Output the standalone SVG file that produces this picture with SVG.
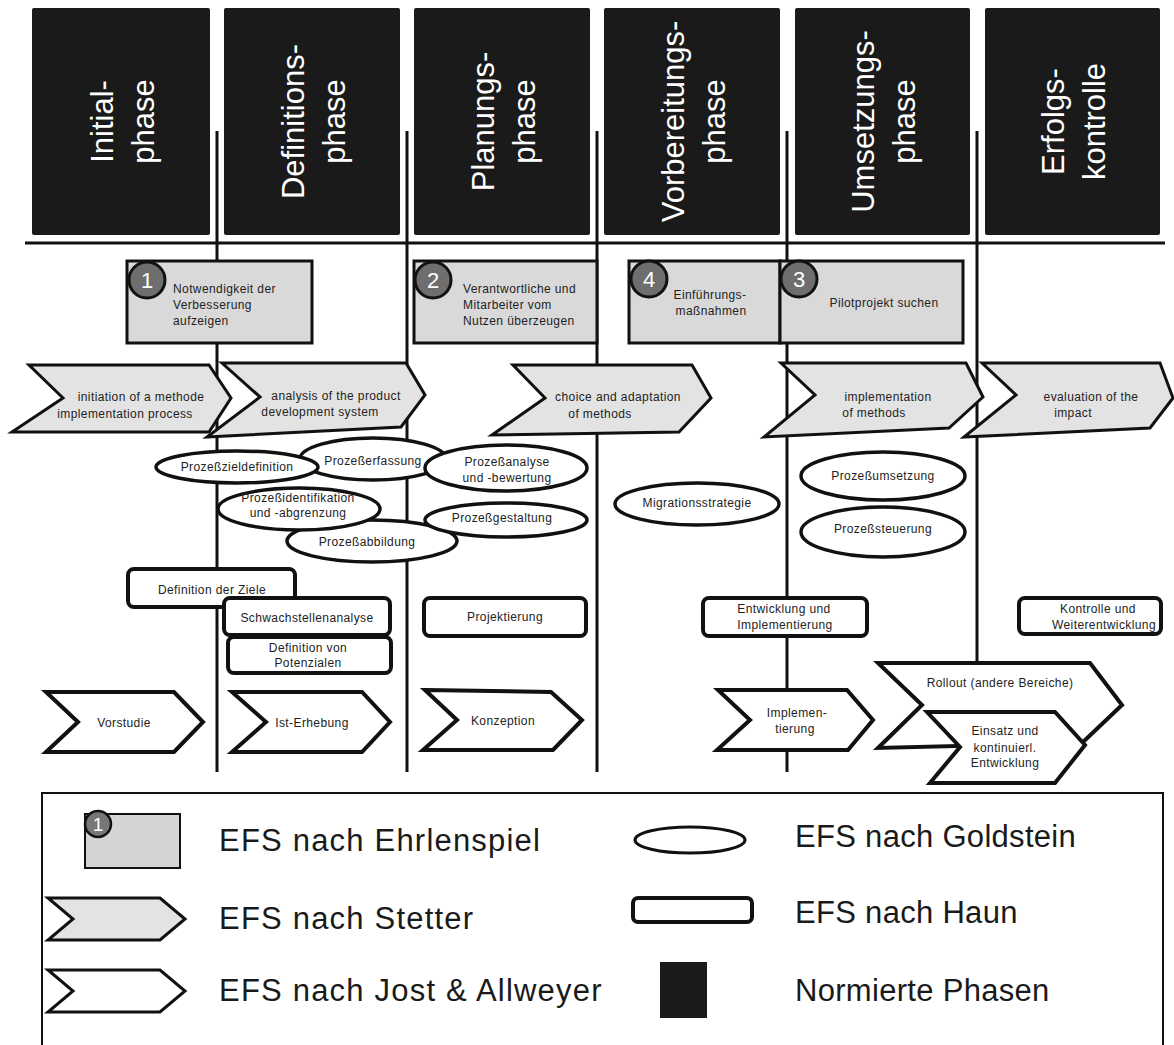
<svg xmlns="http://www.w3.org/2000/svg" width="1174" height="1045" viewBox="0 0 1174 1045">
  <style>
    text { font-family: "Liberation Sans", Arial, sans-serif; fill: #222; }
    .sm { font-size: 12px; letter-spacing: 0.4px; }
    .mid { text-anchor: middle; }
    .phase { fill: #1a1a1a; }
    .phase-t { font-size: 31px; fill: #fff; text-anchor: middle; }
    .axis { stroke: #111; stroke-width: 3; fill: none; }
    .ehr { fill: #d9d9d9; stroke: #111; stroke-width: 3; }
    .badge { fill: #6e6e6e; stroke: #111; stroke-width: 3; }
    .badge-t { font-size: 22px; fill: #fff; text-anchor: middle; }
    .stet { fill: #e3e3e3; stroke: #111; stroke-width: 3; stroke-linejoin: miter; }
    .gold { fill: #fff; stroke: #111; stroke-width: 3.5; }
    .haun { fill: #fff; stroke: #111; stroke-width: 4; }
    .jost { fill: #fff; stroke: #111; stroke-width: 4; stroke-linejoin: miter; }
    .leg { font-size: 31px; letter-spacing: 0.3px; fill: #1a1a1a; }
    .leg-l { letter-spacing: 1.2px; }
  </style>

  <!-- phase separators and timeline axis -->
  <g id="connectors">
    <line class="axis" x1="25" y1="243" x2="1165" y2="243"/>
    <line class="axis" x1="217" y1="131" x2="217" y2="772"/>
    <line class="axis" x1="407" y1="131" x2="407" y2="772"/>
    <line class="axis" x1="597" y1="131" x2="597" y2="772"/>
    <line class="axis" x1="787" y1="131" x2="787" y2="772"/>
    <line class="axis" x1="977" y1="131" x2="977" y2="772"/>
  </g>

  <!-- normed phases -->
  <g id="phase-initial">
    <rect class="phase" x="32" y="8" width="178" height="227" rx="2"/>
    <text class="phase-t" transform="translate(113,121.5) rotate(-90)">Initial-</text>
    <text class="phase-t" transform="translate(154,121.5) rotate(-90)">phase</text>
  </g>
  <g id="phase-definition">
    <rect class="phase" x="224" y="8" width="176" height="227" rx="2"/>
    <text class="phase-t" transform="translate(304,121.5) rotate(-90)">Definitions-</text>
    <text class="phase-t" transform="translate(345,121.5) rotate(-90)">phase</text>
  </g>
  <g id="phase-planung">
    <rect class="phase" x="414" y="8" width="176" height="227" rx="2"/>
    <text class="phase-t" transform="translate(494,121.5) rotate(-90)">Planungs-</text>
    <text class="phase-t" transform="translate(535,121.5) rotate(-90)">phase</text>
  </g>
  <g id="phase-vorbereitung">
    <rect class="phase" x="604" y="8" width="176" height="227" rx="2"/>
    <text class="phase-t" transform="translate(684,121.5) rotate(-90)">Vorbereitungs-</text>
    <text class="phase-t" transform="translate(725,121.5) rotate(-90)">phase</text>
  </g>
  <g id="phase-umsetzung">
    <rect class="phase" x="795" y="8" width="175" height="227" rx="2"/>
    <text class="phase-t" transform="translate(874,121.5) rotate(-90)">Umsetzungs-</text>
    <text class="phase-t" transform="translate(915,121.5) rotate(-90)">phase</text>
  </g>
  <g id="phase-erfolg">
    <rect class="phase" x="985" y="8" width="175" height="227" rx="2"/>
    <text class="phase-t" transform="translate(1064,121.5) rotate(-90)">Erfolgs-</text>
    <text class="phase-t" transform="translate(1105,121.5) rotate(-90)">kontrolle</text>
  </g>

  <!-- Ehrlenspiel steps -->
  <g id="ehr-1">
    <rect class="ehr" x="127" y="261" width="185" height="82"/>
    <circle class="badge" cx="147" cy="280" r="18"/>
    <text class="badge-t" x="147" y="288">1</text>
    <text class="sm" x="173" y="293">Notwendigkeit der</text>
    <text class="sm" x="173" y="309">Verbesserung</text>
    <text class="sm" x="173" y="325">aufzeigen</text>
  </g>
  <g id="ehr-2">
    <rect class="ehr" x="414" y="261" width="183" height="82"/>
    <circle class="badge" cx="433" cy="280" r="18"/>
    <text class="badge-t" x="433" y="288">2</text>
    <text class="sm" x="463" y="293">Verantwortliche und</text>
    <text class="sm" x="463" y="309">Mitarbeiter vom</text>
    <text class="sm" x="463" y="325">Nutzen überzeugen</text>
  </g>
  <g id="ehr-4">
    <rect class="ehr" x="629" y="261" width="151" height="82"/>
    <circle class="badge" cx="649" cy="279" r="18"/>
    <text class="badge-t" x="649" y="287">4</text>
    <text class="sm mid" x="710" y="299">Einführungs-</text>
    <text class="sm mid" x="711" y="315">maßnahmen</text>
  </g>
  <g id="ehr-3">
    <rect class="ehr" x="780" y="261" width="183" height="82"/>
    <circle class="badge" cx="799" cy="279" r="18"/>
    <text class="badge-t" x="799" y="287">3</text>
    <text class="sm mid" x="884" y="307">Pilotprojekt suchen</text>
  </g>

  <!-- Stetter steps -->
  <g id="stet-1">
    <polygon class="stet" points="29,365 209,365 231,398 209,432 12,432 63,398"/>
    <text class="sm mid" x="141" y="401">initiation of a methode</text>
    <text class="sm mid" x="125" y="418">implementation process</text>
  </g>
  <g id="stet-2">
    <polygon class="stet" points="222,363 406,363 425,395 401,427 207,437 260,397"/>
    <text class="sm mid" x="336" y="400">analysis of the product</text>
    <text class="sm mid" x="320" y="416">development system</text>
  </g>
  <g id="stet-3">
    <polygon class="stet" points="513,365 692,365 711,398 679,432 492,435 545,398"/>
    <text class="sm mid" x="618" y="401">choice and adaptation</text>
    <text class="sm mid" x="600" y="418">of methods</text>
  </g>
  <g id="stet-4">
    <polygon class="stet" points="781,363 966,363 983,397 949,428 764,437 815,395"/>
    <text class="sm mid" x="888" y="401">implementation</text>
    <text class="sm mid" x="874" y="417">of  methods</text>
  </g>
  <g id="stet-5">
    <polygon class="stet" points="982,363 1160,363 1173,398 1150,428 964,437 1016,395"/>
    <text class="sm mid" x="1091" y="401">evaluation of the</text>
    <text class="sm mid" x="1073" y="417">impact</text>
  </g>

  <!-- Goldstein steps -->
  <g id="gold-erfassung">
    <ellipse class="gold" cx="373" cy="459" rx="73" ry="21"/>
    <text class="sm mid" x="373" y="465">Prozeßerfassung</text>
  </g>
  <g id="gold-zieldefinition">
    <ellipse class="gold" cx="237" cy="467" rx="81" ry="16"/>
    <text class="sm mid" x="237" y="471">Prozeßzieldefinition</text>
  </g>
  <g id="gold-abbildung">
    <ellipse class="gold" cx="372" cy="541" rx="85" ry="21"/>
    <text class="sm mid" x="367" y="546">Prozeßabbildung</text>
  </g>
  <g id="gold-identifikation">
    <ellipse class="gold" cx="299" cy="509" rx="81" ry="21"/>
    <text class="sm mid" x="298" y="502">Prozeßidentifikation</text>
    <text class="sm mid" x="298" y="517">und -abgrenzung</text>
  </g>
  <g id="gold-analyse">
    <ellipse class="gold" cx="506" cy="468" rx="81" ry="23"/>
    <text class="sm mid" x="507" y="466">Prozeßanalyse</text>
    <text class="sm mid" x="507" y="482">und -bewertung</text>
  </g>
  <g id="gold-gestaltung">
    <ellipse class="gold" cx="506" cy="520" rx="81" ry="17"/>
    <text class="sm mid" x="502" y="522">Prozeßgestaltung</text>
  </g>
  <g id="gold-migration">
    <ellipse class="gold" cx="697" cy="504" rx="82" ry="21"/>
    <text class="sm mid" x="697" y="507">Migrationsstrategie</text>
  </g>
  <g id="gold-umsetzung">
    <ellipse class="gold" cx="883" cy="476" rx="82" ry="24"/>
    <text class="sm mid" x="883" y="480">Prozeßumsetzung</text>
  </g>
  <g id="gold-steuerung">
    <ellipse class="gold" cx="883" cy="532" rx="82" ry="25"/>
    <text class="sm mid" x="883" y="533">Prozeßsteuerung</text>
  </g>

  <!-- Haun steps -->
  <g id="haun-ziele">
    <rect class="haun" x="128" y="569" width="167" height="38" rx="6"/>
    <text class="sm mid" x="212" y="594">Definition der Ziele</text>
  </g>
  <g id="haun-schwachstellen">
    <rect class="haun" x="224" y="598" width="166" height="37" rx="6"/>
    <text class="sm mid" x="307" y="622">Schwachstellenanalyse</text>
  </g>
  <g id="haun-potenziale">
    <rect class="haun" x="228" y="637" width="163" height="36" rx="6"/>
    <text class="sm mid" x="308" y="652">Definition von</text>
    <text class="sm mid" x="308" y="667">Potenzialen</text>
  </g>
  <g id="haun-projektierung">
    <rect class="haun" x="424" y="598" width="162" height="38" rx="6"/>
    <text class="sm mid" x="505" y="621">Projektierung</text>
  </g>
  <g id="haun-entwicklung">
    <rect class="haun" x="703" y="598" width="164" height="38" rx="6"/>
    <text class="sm mid" x="784" y="613">Entwicklung und</text>
    <text class="sm mid" x="785" y="629">Implementierung</text>
  </g>
  <g id="haun-kontrolle">
    <rect class="haun" x="1019" y="598" width="142" height="36" rx="6"/>
    <text class="sm mid" x="1098" y="613">Kontrolle und</text>
    <text class="sm mid" x="1104" y="629">Weiterentwicklung</text>
  </g>

  <!-- Jost & Allweyer steps -->
  <g id="jost-vorstudie">
    <polygon class="jost" points="46,692 174,692 203,722 174,752 46,752 78,722"/>
    <text class="sm mid" x="124" y="727">Vorstudie</text>
  </g>
  <g id="jost-ist">
    <polygon class="jost" points="232,692 362,692 390,722 362,752 232,752 266,722"/>
    <text class="sm mid" x="312" y="727">Ist-Erhebung</text>
  </g>
  <g id="jost-konzeption">
    <polygon class="jost" points="425,690 551,692 582,720 553,750 423,750 457,720"/>
    <text class="sm mid" x="503" y="725">Konzeption</text>
  </g>
  <g id="jost-implementierung">
    <polygon class="jost" points="718,690 847,690 873,720 848,750 717,750 750,720"/>
    <text class="sm mid" x="797" y="717">Implemen-</text>
    <text class="sm mid" x="795" y="733">tierung</text>
  </g>
  <g id="jost-rollout">
    <polygon class="jost" points="878,663 1090,663 1122,705 1082,743 878,748 922,705"/>
    <text class="sm mid" x="1000" y="687">Rollout (andere Bereiche)</text>
  </g>
  <g id="jost-einsatz">
    <polygon class="jost" points="927,712 1055,712 1085,745 1055,783 930,783 960,747"/>
    <text class="sm mid" x="1005" y="735">Einsatz und</text>
    <text class="sm mid" x="1005" y="752">kontinuierl.</text>
    <text class="sm mid" x="1005" y="767">Entwicklung</text>
  </g>

  <!-- legend -->
  <g id="legend">
    <rect x="42" y="793" width="1121" height="262" fill="#fff" stroke="#111" stroke-width="2"/>
    <rect x="85" y="814" width="95" height="54" fill="#d4d4d4" stroke="#111" stroke-width="2"/>
    <circle cx="98" cy="824" r="13" fill="#777" stroke="#111" stroke-width="2.5"/>
    <text x="98" y="831" font-size="19" text-anchor="middle" style="fill:#fff">1</text>
    <text class="leg leg-l" x="219" y="851">EFS nach Ehrlenspiel</text>

    <polygon class="stet" points="48,898 160,898 185,919 160,940 48,940 73,919"/>
    <text class="leg leg-l" x="219" y="929">EFS nach Stetter</text>

    <polygon class="stet" style="fill:#fff" points="48,970 160,970 185,991 160,1012 48,1012 73,991"/>
    <text class="leg leg-l" x="219" y="1001">EFS nach Jost &amp; Allweyer</text>

    <ellipse cx="690" cy="840" rx="55" ry="13" fill="#fff" stroke="#111" stroke-width="3"/>
    <text class="leg" x="795" y="847">EFS nach Goldstein</text>

    <rect x="633" y="898" width="119" height="24" rx="5" fill="#fff" stroke="#111" stroke-width="4"/>
    <text class="leg" x="795" y="923">EFS nach Haun</text>

    <rect x="660" y="962" width="47" height="56" fill="#1a1a1a"/>
    <text class="leg" x="795" y="1001">Normierte Phasen</text>
  </g>
</svg>
